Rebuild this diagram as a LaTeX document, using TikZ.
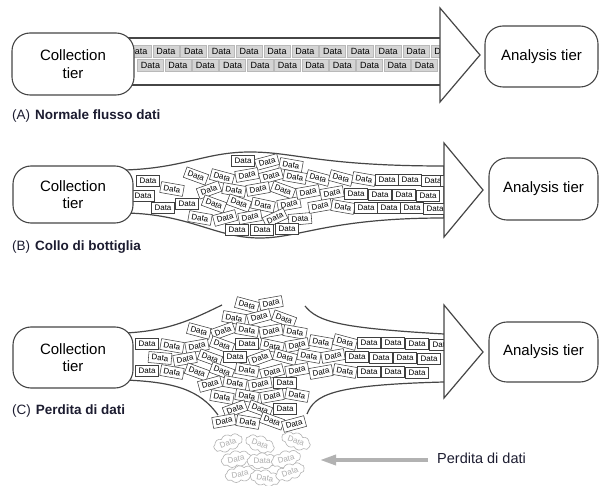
\documentclass[tikz,border=0pt]{standalone}
\usepackage{fontspec}
\setmainfont{Liberation Sans}
\usetikzlibrary{shapes.symbols,arrows.meta}

\definecolor{inkline}{RGB}{70,70,70}
\definecolor{labelink}{RGB}{28,28,48}
\definecolor{flowfill}{RGB}{212,212,212}

\tikzset{
  tierbox/.style={draw=inkline, line width=1.1pt, fill=white, rounded corners=18pt,
    align=center, inner sep=0, font=\fontsize{15}{17.5}\selectfont},
  pipe/.style={draw=inkline, line width=1.2pt},
  headshape/.style={draw=inkline, line width=1.2pt, fill=white, line join=miter},
  flowbox/.style={draw=gray!55, fill=flowfill, line width=0.5pt, minimum width=26pt,
    minimum height=12.5pt, inner sep=0, font=\fontsize{9}{10}\selectfont},
  databox/.style={draw=black!75, fill=white, line width=0.55pt, minimum width=23pt,
    minimum height=11pt, inner sep=0, font=\fontsize{8}{9}\selectfont},
  lostbox/.style={cloud, cloud puffs=9, cloud puff arc=110, aspect=2.2, draw=gray!60,
    line width=0.6pt, fill=white, minimum width=30pt, minimum height=16.5pt, inner sep=0,
    text=gray!65, font=\fontsize{8}{9}\selectfont},
  caption/.style={anchor=west, inner sep=0, text=labelink, font=\fontsize{13.5}{15}\selectfont},
}

\begin{document}
\begin{tikzpicture}[x=1pt,y=-1pt]
\useasboundingbox (0,0) rectangle (600,486);

% ---------------- (A) normal flow ----------------
\draw[pipe] (125,38) -- (440,38);
\draw[pipe] (125,85) -- (440,85);
\foreach \k in {0,...,11}
  \node[flowbox] (ra\k) at ({138+27.8*\k},51.5) {Data};
\foreach \k in {0,...,10}
  \node[flowbox] (rb\k) at ({150.5+27.4*\k},65.5) {Data};
\node[tierbox, minimum width=122pt, minimum height=62pt] (colA) at (73,64) {Collection\\tier};
\draw[headshape] (440,8) -- (480,55) -- (440,102) -- cycle;
\node[tierbox, minimum width=113pt, minimum height=61pt] (anaA) at (541.5,56.5) {Analysis tier};
\node[caption] (capA) at (12,116) {(A)\hspace{5pt}\textbf{Normale flusso dati}};

% ---------------- (B) bottleneck ----------------
\path[pipe, fill=white] (125,170) .. controls (185,168) and (205,152) .. (250,152)
  .. controls (295,152) and (320,166) .. (444,166) -- (444,218)
  .. controls (330,218) and (300,238) .. (260,238)
  .. controls (215,238) and (190,214) .. (125,213);
\foreach \px/\py/\pr [count=\i] in {
  148/181/0, 143/196/0, 163/208/0, 172/189/-10,
  243/161/0, 267/162/15, 291/165/-10,
  196/176/-20, 222/177/-15, 247/175/10, 271/176/15, 295/177/-10,
  209/190/20, 234/190/-10, 258/189/10, 283/190/-20,
  187/204/0, 214/204/-20, 239/203/-20, 263/205/-12, 289/204/10,
  200/218/-10, 225/218/15, 250/217/10, 275/218/25, 300/219/5,
  237/230/0, 262/230/0, 287/229/0,
  318/178/-15, 341/178/-15, 364/179/-10, 387/180/0, 410/180/0, 433/181/0, 452/181/0,
  308/192/10, 332/193/10, 356/194/0, 380/195/0, 404/195/0, 428/196/0,
  320/206/10, 343/207/-10, 366/208/0, 389/208/0, 412/208/0, 435/209/0}
  \node[databox, rotate=\pr] (bd\i) at (\px,\py) {Data};
\node[tierbox, minimum width=120pt, minimum height=57pt] (colB) at (73,194.5) {Collection\\tier};
\draw[headshape] (444,143) -- (483,190) -- (444,237) -- cycle;
\node[tierbox, minimum width=109pt, minimum height=62pt] (anaB) at (543.5,189) {Analysis tier};
\node[caption] (capB) at (12,247) {(B)\hspace{5pt}\textbf{Collo di bottiglia}};

% ---------------- (C) data loss ----------------
\foreach \px/\py/\pr [count=\i] in {
  228/443/20, 260/444/-20, 296/441/-20, 236/459/10, 262/461/0, 286/459/15,
  240/474/10, 265/478/-10, 290/472/20}
  \node[lostbox, rotate=\pr] (lost\i) at (\px,\py) {Data};
\draw[pipe] (125,333) .. controls (170,331) and (195,318) .. (222,305);
\draw[pipe] (305,306) .. controls (318,322) and (340,328) .. (444,334);
\draw[pipe] (125,380) .. controls (175,382) and (200,390) .. (218,415);
\draw[pipe] (307,414) .. controls (315,395) and (330,385) .. (444,382);
\foreach \px/\py/\pr [count=\i] in {
  247/305/-15, 271/303/10,
  234/318/-10, 259/317/15, 284/319/-20,
  199/331/-15, 223/331/20, 247/330/-10, 271/331/10, 295/332/-10,
  147/344/0, 172/346/-10, 197/346/10, 222/345/-20, 247/344/0, 272/346/-12, 297/345/10,
  321/342/-10, 345/342/-15, 369/343/0, 393/343/0, 417/344/0, 441/345/0,
  160/358/-5, 185/359/10, 210/358/-20, 235/357/0, 260/358/20, 285/357/-15,
  309/356/-10, 333/356/10, 357/357/0, 381/358/0, 405/358/0, 429/359/0,
  147/371/0, 172/372/-10, 197/372/-20, 222/371/-20, 247/370/-10, 272/372/15,
  297/370/10, 321/372/10, 345/371/-10, 369/372/0, 393/372/0, 417/373/0,
  210/384/15, 235/383/-10, 260/384/10, 285/383/0,
  222/397/-10, 247/396/-10, 272/396/10, 297/395/-10,
  235/409/20, 260/409/-20, 285/409/0,
  224/421/10, 248/422/-10, 272/421/-20, 294/424/15}
  \node[databox, rotate=\pr] (cd\i) at (\px,\py) {Data};
\node[tierbox, minimum width=120pt, minimum height=61pt] (colC) at (73,357.5) {Collection\\tier};
\draw[headshape] (444,305) -- (483,352) -- (444,398) -- cycle;
\node[tierbox, minimum width=109pt, minimum height=60pt] (anaC) at (543.5,352) {Analysis tier};
\node[caption] (capC) at (12,411) {(C)\hspace{5pt}\textbf{Perdita di dati}};

% pointer to the dropped items
\node[anchor=west, inner sep=0, text=labelink, font=\fontsize{14.5}{16}\selectfont]
  (lostlbl) at (437,458) {Perdita di dati};
\coordinate (losttip) at (320,460);
\draw[-{Triangle[length=16pt,width=10pt]}, line width=3.5pt, draw=gray!60, shorten <=9pt]
  (lostlbl.west |- losttip) -- (losttip);
\end{tikzpicture}
\end{document}
